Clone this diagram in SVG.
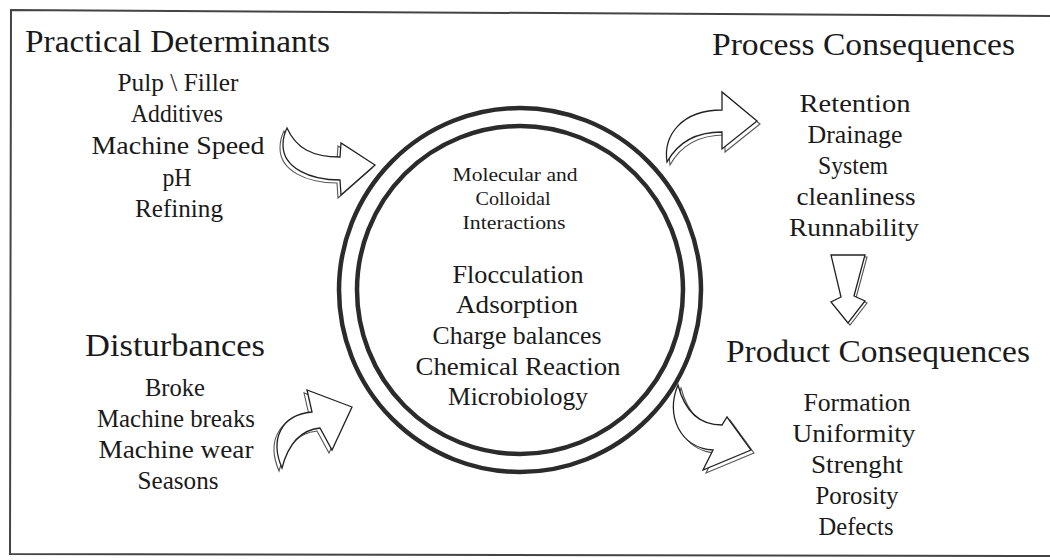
<svg xmlns="http://www.w3.org/2000/svg" width="1050" height="560" viewBox="0 0 1050 560" font-family="'Liberation Serif', 'Times New Roman', serif">
<style>
text{font-family:"Liberation Serif","Times New Roman",serif;fill:#1a1a1a;text-anchor:middle}
.h{font-size:32px;text-anchor:start}
.i{font-size:26px}
.s{font-size:19px}
.c{font-size:26px}
.arr{fill:#fff;stroke:#222;stroke-width:1.3;stroke-linejoin:miter}
.sh{fill:#fff;stroke:#555;stroke-width:1.1}
.ring{fill:none;stroke:#2b2b2b;stroke-width:4.5}
</style>
<rect width="1050" height="560" fill="#fff"/>
<path d="M1050,16 L11,10 L10,554 L1050,556" fill="none" stroke="#444" stroke-width="2"/>

<g id="practical">
<text class="h" x="25" y="52" textLength="305" lengthAdjust="spacingAndGlyphs">Practical Determinants</text>
<text class="i" x="178" y="91" textLength="121" lengthAdjust="spacingAndGlyphs">Pulp \ Filler</text>
<text class="i" x="177" y="122" textLength="92" lengthAdjust="spacingAndGlyphs">Additives</text>
<text class="i" x="178" y="154" textLength="173" lengthAdjust="spacingAndGlyphs">Machine Speed</text>
<text class="i" x="177" y="186" textLength="29" lengthAdjust="spacingAndGlyphs">pH</text>
<text class="i" x="179" y="217" textLength="88" lengthAdjust="spacingAndGlyphs">Refining</text>
</g>

<g id="disturbances">
<text class="h" x="85" y="356" textLength="180" lengthAdjust="spacingAndGlyphs">Disturbances</text>
<text class="i" x="175" y="396" textLength="60" lengthAdjust="spacingAndGlyphs">Broke</text>
<text class="i" x="176" y="427" textLength="158" lengthAdjust="spacingAndGlyphs">Machine breaks</text>
<text class="i" x="176" y="458" textLength="155" lengthAdjust="spacingAndGlyphs">Machine wear</text>
<text class="i" x="178" y="489" textLength="81" lengthAdjust="spacingAndGlyphs">Seasons</text>
</g>

<g id="process">
<text class="h" x="712" y="55" textLength="303" lengthAdjust="spacingAndGlyphs">Process Consequences</text>
<text class="i" x="855" y="112" textLength="111" lengthAdjust="spacingAndGlyphs">Retention</text>
<text class="i" x="855" y="143" textLength="95" lengthAdjust="spacingAndGlyphs">Drainage</text>
<text class="i" x="853" y="174" textLength="70" lengthAdjust="spacingAndGlyphs">System</text>
<text class="i" x="856" y="205" textLength="119" lengthAdjust="spacingAndGlyphs">cleanliness</text>
<text class="i" x="854" y="236" textLength="130" lengthAdjust="spacingAndGlyphs">Runnability</text>
</g>

<g id="product">
<text class="h" x="726" y="362" textLength="304" lengthAdjust="spacingAndGlyphs">Product Consequences</text>
<text class="i" x="857" y="411" textLength="107" lengthAdjust="spacingAndGlyphs">Formation</text>
<text class="i" x="854" y="442" textLength="123" lengthAdjust="spacingAndGlyphs">Uniformity</text>
<text class="i" x="857" y="473" textLength="92" lengthAdjust="spacingAndGlyphs">Strenght</text>
<text class="i" x="857" y="504" textLength="83" lengthAdjust="spacingAndGlyphs">Porosity</text>
<text class="i" x="856" y="535" textLength="75" lengthAdjust="spacingAndGlyphs">Defects</text>
</g>

<g id="interactions">
<ellipse class="ring" cx="520" cy="290" rx="181" ry="182"/>
<ellipse class="ring" cx="520" cy="290" rx="163" ry="164"/>
<text class="s" x="515" y="181" textLength="125" lengthAdjust="spacingAndGlyphs">Molecular and</text>
<text class="s" x="513" y="205" textLength="75" lengthAdjust="spacingAndGlyphs">Colloidal</text>
<text class="s" x="514" y="229" textLength="103" lengthAdjust="spacingAndGlyphs">Interactions</text>
<text class="c" x="518" y="283" textLength="131" lengthAdjust="spacingAndGlyphs">Flocculation</text>
<text class="c" x="517" y="313" textLength="122" lengthAdjust="spacingAndGlyphs">Adsorption</text>
<text class="c" x="517" y="344" textLength="169" lengthAdjust="spacingAndGlyphs">Charge balances</text>
<text class="c" x="518" y="375" textLength="205" lengthAdjust="spacingAndGlyphs">Chemical Reaction</text>
<text class="c" x="518" y="405" textLength="140" lengthAdjust="spacingAndGlyphs">Microbiology</text>
</g>

<g id="connectors">
<g id="arrow-practical">
<path class="sh" transform="translate(-3,3)" d="M287,128 C296,148 312,157 340,157 L341,143 L375,165 L341,195 L340,180 C310,180 283,168 283,145 C283,138 285,132 287,128 Z"/>
<path class="arr" d="M287,128 C296,148 312,157 340,157 L341,143 L375,165 L341,195 L340,180 C310,180 283,168 283,145 C283,138 285,132 287,128 Z"/>
</g>
<g id="arrow-disturbances">
<path class="sh" transform="translate(-3,3)" d="M282,468 C270,440 280,415 312,412 L307,390 L352,407 L332,450 L320,428 C300,430 288,445 282,468 Z"/>
<path class="arr" d="M282,468 C270,440 280,415 312,412 L307,390 L352,407 L332,450 L320,428 C300,430 288,445 282,468 Z"/>
</g>
<g id="arrow-process">
<path class="sh" transform="translate(3,3)" d="M667,162 C663,135 682,110 722,110 L722,92 L757,121 L722,149 L722,132 C696,132 678,142 667,162 Z"/>
<path class="arr" d="M667,162 C663,135 682,110 722,110 L722,92 L757,121 L722,149 L722,132 C696,132 678,142 667,162 Z"/>
</g>
<g id="arrow-product">
<path class="sh" transform="translate(3,3)" d="M678,385 C665,415 680,448 713,450 L703,470 L751,450 L727,417 L722,425 C700,425 685,412 678,385 Z"/>
<path class="arr" d="M678,385 C665,415 680,448 713,450 L703,470 L751,450 L727,417 L722,425 C700,425 685,412 678,385 Z"/>
</g>
<g id="arrow-down">
<path class="sh" transform="translate(2,2)" d="M831,255 L865,255 L854,296 L865,301 L848,323 L831,302 L841,297 Z"/>
<path class="arr" d="M831,255 L865,255 L854,296 L865,301 L848,323 L831,302 L841,297 Z"/>
</g>
</g>
</svg>
